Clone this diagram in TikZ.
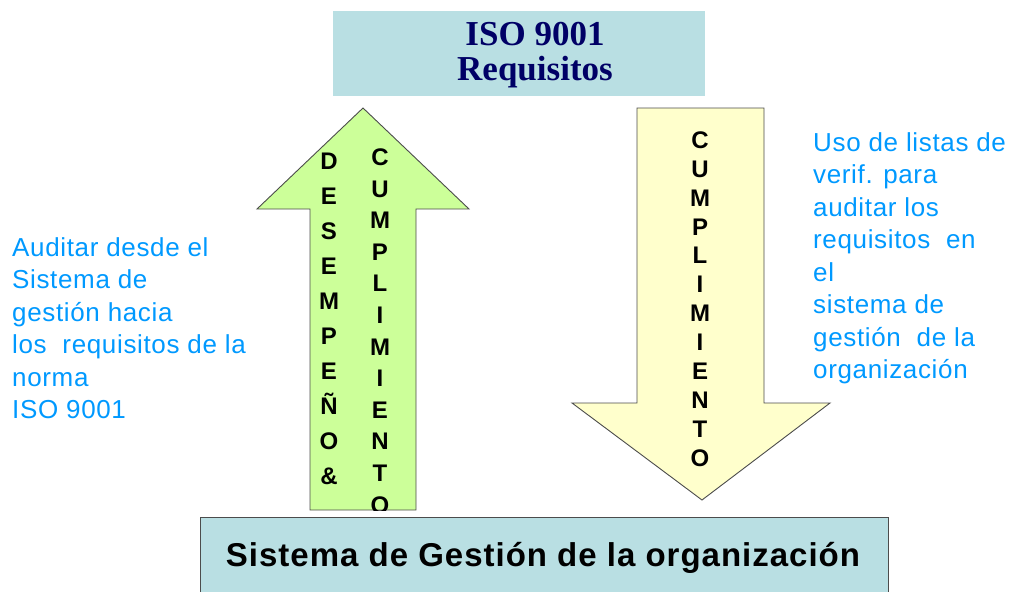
\documentclass[tikz,border=0pt]{standalone}
\usepackage{fontspec}
\setmainfont{Liberation Sans}
\newfontfamily\normafont{Liberation Serif}
\newfontfamily\notafont[LetterSpace=2.5]{Liberation Sans}
\newfontfamily\sistemafont[LetterSpace=3]{Liberation Sans}
\usetikzlibrary{positioning}
\definecolor{cajaazul}{RGB}{185,223,227}
\definecolor{flechaverde}{RGB}{204,255,153}
\definecolor{flechaamarilla}{RGB}{255,255,204}
\definecolor{azultexto}{RGB}{0,153,255}
\definecolor{azulnorma}{RGB}{0,0,102}
\tikzset{
  caja/.style={fill=cajaazul,inner sep=0pt,anchor=north west},
  flecha/.style={draw=black!70,line width=0.9pt,line join=miter},
  nota/.style={text=azultexto,align=left,anchor=north west,inner sep=0pt,font=\notafont\fontsize{26}{32.5}\selectfont},
  letras/.style={align=center,inner sep=0pt,font=\bfseries\fontsize{24}{#1}\selectfont},
}

\begin{document}
\begin{tikzpicture}[x=1pt,y=-1pt]
    \useasboundingbox (0,0) rectangle (1010,592);
    % cajas
    \node[caja,minimum width=372pt,minimum height=85pt] (norma) at (333,11) {};
    \node[text=azulnorma,align=center,font=\normafont\bfseries\fontsize{35}{35}\selectfont] (normatxt) at (535,55) {ISO 9001\\Requisitos};
    \node[caja,draw=black!70,line width=0.9pt,minimum width=688pt,minimum height=85pt] (sistema) at (200,517) {};
    \node[font=\sistemafont\bfseries\fontsize{33}{36}\selectfont] (sistematxt) at (543,558) {Sistema de Gestión de la organización};
    % flecha hacia arriba
    \draw[flecha,fill=flechaverde] (310,510) -- (310,209) -- (257,209) -- (363,108) -- (469,209) -- (416,209) -- (416,510) -- cycle;
    \begin{scope}
        \clip (310,510) -- (310,209) -- (257,209) -- (363,108) -- (469,209) -- (416,209) -- (416,510) -- cycle;
        \node[letras=35] (desempeno) at (329,319) {D\\E\\S\\E\\M\\P\\E\\Ñ\\O\\\&};
        \node[letras=31.6] (cumplearriba) at (380,331) {C\\U\\M\\P\\L\\I\\M\\I\\E\\N\\T\\O};
    \end{scope}
    % flecha hacia abajo
    \draw[flecha,fill=flechaamarilla] (637,108) -- (764,108) -- (764,403) -- (830,403) -- (702,500) -- (572,403) -- (637,403) -- cycle;
    \node[letras=28.9] (cumpleabajo) at (700,299) {C\\U\\M\\P\\L\\I\\M\\I\\E\\N\\T\\O};
    % textos
    \node[nota] (izq) at (12,237) {Auditar desde el\\Sistema de\\gestión hacia\\los \ requisitos de la\\norma\\ISO 9001};
    \node[nota] (der) at (813,132) {Uso de listas de\\verif. para\\auditar los\\requisitos \ en\\el\\sistema de\\gestión \ de la\\organización};
\end{tikzpicture}
\end{document}
